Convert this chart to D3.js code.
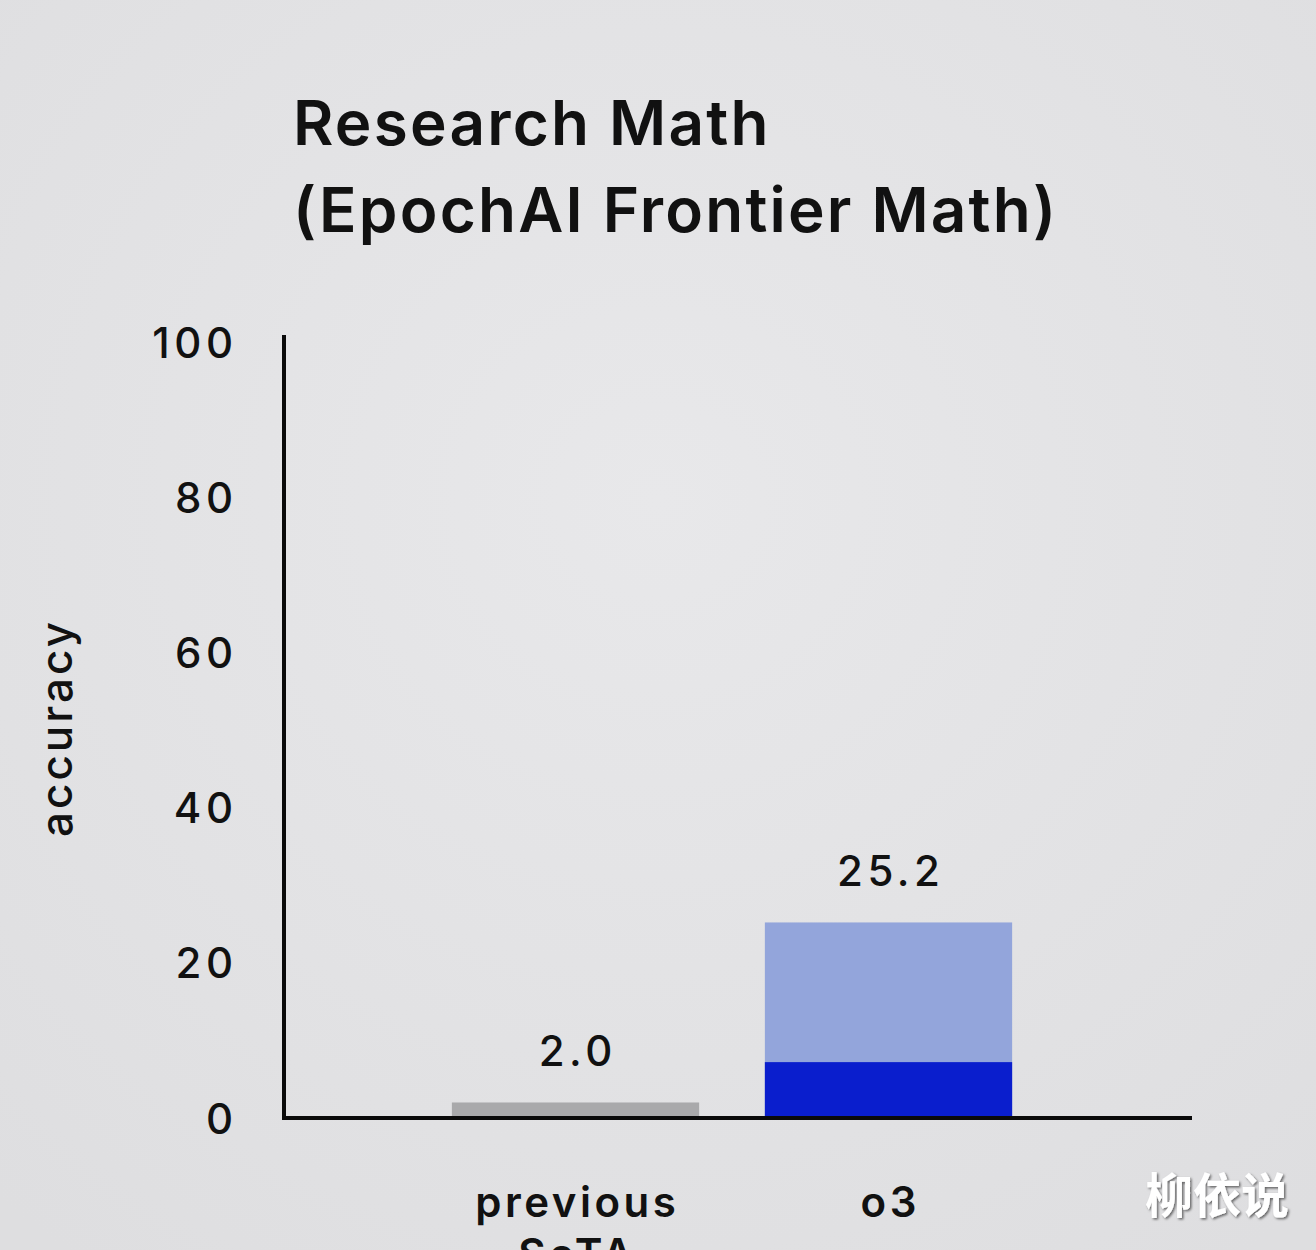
<!DOCTYPE html>
<html>
<head>
<meta charset="utf-8">
<script src="https://cdn.jsdelivr.net/npm/d3@7"></script>
<style>
  html, body { margin: 0; padding: 0; background: #e6e6e8; overflow: hidden; }
  svg { display: block; }
</style>
</head>
<body>
<svg id="chart" width="1316" height="1250"></svg>
<script>
const titleLines = ["Research Math", "(EpochAI Frontier Math)"];
const categories = ["previous SoTA", "o3"];
const categoryLines = [["previous", "SoTA"], ["o3"]];
const totalValues = [2.0, 25.2];
const solidValues = [0, 7.2];
const valueLabels = ["2.0", "25.2"];
const yTicks = [0, 20, 40, 60, 80, 100];
const yLabel = "accuracy";
const watermark = "柳依说";

const W = 1316, H = 1250;
const svg = d3.select("#chart");
const font = "Inter, 'Noto Sans', sans-serif";

const defs = svg.append("defs");
const grad = defs.append("radialGradient").attr("id", "bg").attr("cx", "50%").attr("cy", "40%").attr("r", "75%");
grad.append("stop").attr("offset", "0%").attr("stop-color", "#e8e8ea");
grad.append("stop").attr("offset", "100%").attr("stop-color", "#dedee0");
svg.append("rect").attr("width", W).attr("height", H).attr("fill", "url(#bg)");

const y = d3.scaleLinear().domain([0, 100]).range([1118, 342]);
const x = d3.scaleBand().domain(categories).range([419, 1045]).paddingInner(0.21).paddingOuter(0.105);

// title
svg.append("g").selectAll("text").data(titleLines).join("text")
  .attr("x", 293)
  .attr("y", (d, i) => 145 + i * 87)
  .attr("font-family", font)
  .attr("font-size", 62)
  .attr("font-weight", 600)
  .attr("letter-spacing", 2.2)
  .attr("fill", "#111")
  .text(d => d);

// y tick labels
const tickLS = 4.5;
const yAxis = d3.axisLeft(y).tickValues(yTicks).tickSize(0).tickPadding(0);
const gy = svg.append("g").attr("transform", `translate(${233 + tickLS},0)`).call(yAxis);
gy.select(".domain").remove();
gy.selectAll("text")
  .attr("font-family", font)
  .attr("font-size", 42)
  .attr("font-weight", 500)
  .attr("letter-spacing", tickLS)
  .attr("fill", "#111")
  .attr("dy", "0.36em");

// y label
svg.append("text")
  .attr("transform", "translate(72,728) rotate(-90)")
  .attr("text-anchor", "middle")
  .attr("font-family", font)
  .attr("font-size", 44)
  .attr("font-weight", 500)
  .attr("letter-spacing", 3)
  .attr("fill", "#111")
  .text(yLabel);

// bars: total (light) part
const barColors = ["#a9a9ab", "#93a5db"];
svg.append("g").selectAll("rect").data(categories).join("rect")
  .attr("x", d => x(d))
  .attr("width", x.bandwidth())
  .attr("y", (d, i) => y(totalValues[i]))
  .attr("height", (d, i) => y(0) - y(totalValues[i]))
  .attr("fill", (d, i) => barColors[i]);

// solid dark portion
svg.append("g").selectAll("rect").data(categories.filter((d, i) => solidValues[i] > 0)).join("rect")
  .attr("x", d => x(d))
  .attr("width", x.bandwidth())
  .attr("y", d => y(solidValues[categories.indexOf(d)]))
  .attr("height", d => y(0) - y(solidValues[categories.indexOf(d)]))
  .attr("fill", "#0a1ecd");

// value labels
const valLS = 4.5;
svg.append("g").selectAll("text").data(categories).join("text")
  .attr("x", d => x(d) + x.bandwidth() / 2 + valLS / 2)
  .attr("y", (d, i) => y(totalValues[i]) - 36)
  .attr("text-anchor", "middle")
  .attr("font-family", font)
  .attr("font-size", 42)
  .attr("font-weight", 500)
  .attr("letter-spacing", valLS)
  .attr("fill", "#111")
  .text((d, i) => valueLabels[i]);

// axes lines
svg.append("line").attr("x1", 284).attr("x2", 284).attr("y1", 335).attr("y2", y(0) + 2)
  .attr("stroke", "#0a0a0a").attr("stroke-width", 4);
svg.append("line").attr("x1", 282).attr("x2", 1192).attr("y1", y(0)).attr("y2", y(0))
  .attr("stroke", "#0a0a0a").attr("stroke-width", 4);

// category labels
const catLS = 3.5;
const cg = svg.append("g").selectAll("text").data(categories).join("text")
  .attr("text-anchor", "middle")
  .attr("font-family", font)
  .attr("font-size", 42)
  .attr("font-weight", 600)
  .attr("letter-spacing", catLS)
  .attr("fill", "#111");
cg.selectAll("tspan").data((d, i) => categoryLines[i].map(l => ({l, c: d}))).join("tspan")
  .attr("x", d => x(d.c) + x.bandwidth() / 2 + catLS / 2)
  .attr("y", (d, j) => 1217 + j * 52)
  .text(d => d.l);

// watermark
const filt = defs.append("filter").attr("id", "sh").attr("x", "-10%").attr("y", "-10%").attr("width", "130%").attr("height", "130%");
filt.append("feDropShadow").attr("dx", 1.5).attr("dy", 1.5).attr("stdDeviation", 1.2).attr("flood-color", "#000").attr("flood-opacity", 0.55);
svg.append("text")
  .attr("x", 1217).attr("y", 1213)
  .attr("text-anchor", "middle")
  .attr("font-family", "'Noto Sans CJK SC', sans-serif")
  .attr("font-size", 48)
  .attr("font-weight", 700)
  .attr("fill", "#ffffff")
  .attr("filter", "url(#sh)")
  .text(watermark);
</script>
</body>
</html>
